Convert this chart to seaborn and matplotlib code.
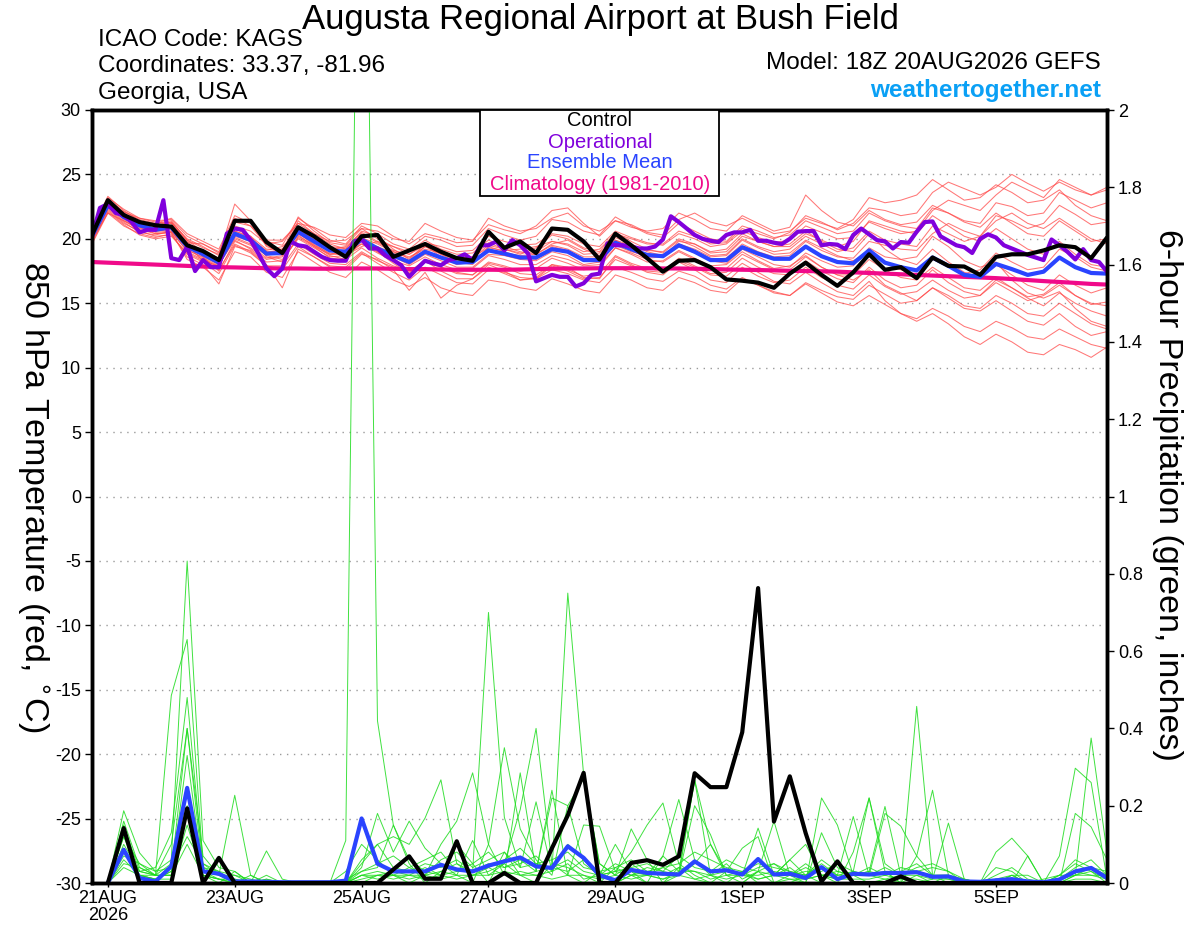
import numpy as np
import pandas as pd
import matplotlib
matplotlib.use("Agg")
import matplotlib.pyplot as plt
import seaborn as sns
from matplotlib.patches import Rectangle

# ---------------- data ----------------
HOURS_T = list(range(0, 385, 6))      # 850 hPa temperature, 6-hourly from 18Z 20AUG
HOURS_OP = list(range(0, 385, 3))     # operational run, 3-hourly
HOURS_P = list(range(6, 385, 6))      # 6-hour precipitation

control_t = [20.3, 23.0, 21.85, 21.3, 21.05, 20.95, 19.5, 19.05, 18.35, 21.4, 21.4, 19.75, 18.9,
             20.9, 20.2, 19.35, 18.6, 20.2, 20.3, 18.6, 19.1, 19.6, 19.0, 18.5, 18.3, 20.55,
             19.3, 19.8, 18.9, 20.8, 20.7, 19.8, 18.4, 20.4, 19.5, 18.5, 17.45, 18.3, 18.35,
             17.8, 16.85, 16.75, 16.6, 16.2, 17.3, 18.15, 17.2, 16.35, 17.4, 18.8, 17.6, 17.8,
             16.95, 18.55, 17.9, 17.85, 17.2, 18.6, 18.8, 18.8, 19.1, 19.5, 19.35, 18.5, 20.1]

mean_t = [20.2, 22.6, 21.7, 21.05, 20.7, 20.9, 19.4, 18.8, 18.15, 20.4, 19.9, 18.85, 18.9,
          20.55, 19.8, 19.1, 19.0, 19.95, 19.25, 18.7, 18.2, 19.0, 18.55, 18.15, 18.2, 19.1,
          18.85, 18.55, 18.55, 19.2, 19.0, 18.35, 18.35, 19.7, 19.2, 18.75, 18.65, 19.5, 19.0,
          18.35, 18.35, 19.35, 18.85, 18.45, 18.45, 19.4, 18.65, 18.2, 18.1, 19.1, 18.15, 17.8,
          17.55, 18.55, 17.9, 17.2, 17.05, 18.05, 17.65, 17.2, 17.45, 18.55, 17.8, 17.35, 17.3]

oper_t = [20.2, 22.4, 22.7, 22.0, 21.85, 21.3, 20.5, 20.7, 20.7, 23.0, 18.5, 18.35, 19.4, 17.5, 18.35, 17.8,
          17.8, 20.4, 20.8, 20.7, 19.9, 18.85, 17.7, 17.1, 17.7, 19.8, 19.5, 19.4, 19.0, 18.6, 18.35, 18.3,
          18.3, 19.8, 19.95, 19.25, 19.25, 18.7, 18.35, 17.95, 17.05, 17.7, 18.3, 18.1, 17.95, 18.35, 18.5, 18.8,
          18.35, 19.5, 19.5, 19.8, 19.1, 19.9, 19.5, 18.85, 16.7, 16.95, 17.2, 17.05, 17.05, 16.3, 16.55, 17.2,
          17.3, 19.65, 19.5, 19.5, 19.4, 19.25, 19.25, 19.4, 19.95, 21.75, 21.3, 20.8, 20.3, 20.0, 19.85, 19.75,
          20.3, 20.5, 20.5, 20.7, 19.85, 19.85, 19.7, 19.6, 20.0, 20.55, 20.6, 20.6, 19.5, 19.6, 19.55, 19.2,
          20.3, 20.8, 20.35, 19.9, 19.8, 19.25, 19.75, 19.7, 20.55, 21.3, 21.35, 20.2, 19.85, 19.5, 19.35, 18.9,
          20.0, 20.35, 20.1, 19.5, 19.25, 19.0, 18.75, 18.55, 18.35, 19.95, 19.5, 19.0, 18.4, 19.2, 18.35, 18.2,
          17.45]

clim_t = [18.2, 18.15, 18.1, 18.05, 18.0, 17.95, 17.9, 17.85, 17.8, 17.78, 17.75, 17.72, 17.7,
          17.7, 17.68, 17.68, 17.7, 17.7, 17.7, 17.68, 17.65, 17.65, 17.62, 17.6, 17.6, 17.6,
          17.6, 17.62, 17.65, 17.68, 17.7, 17.7, 17.72, 17.72, 17.72, 17.72, 17.7, 17.7, 17.68,
          17.65, 17.62, 17.6, 17.58, 17.55, 17.52, 17.5, 17.48, 17.45, 17.4, 17.35, 17.3, 17.25,
          17.2, 17.15, 17.1, 17.05, 17.0, 16.95, 16.88, 16.8, 16.72, 16.65, 16.58, 16.5, 16.45]

member_t = {
    "m01": [20.6, 23.2, 22.3, 21.6, 21.4, 21.5, 20.2, 19.6, 18.9, 21.3, 21.0, 19.8, 19.5,
            21.6, 20.8, 19.9, 19.6, 21.0, 20.4, 19.6, 19.2, 20.2, 19.9, 19.4, 19.5, 20.8,
            20.3, 19.9, 20.2, 21.5, 21.3, 20.6, 20.3, 21.7, 21.0, 20.4, 20.1, 21.2, 20.6,
            20.0, 19.8, 21.0, 20.6, 20.1, 20.3, 21.4, 20.9, 20.4, 20.6, 22.0, 21.4, 21.0,
            20.8, 22.4, 22.0, 21.4, 21.2, 22.8, 22.5, 21.8, 22.0, 23.6, 23.0, 22.4, 22.8],
    "m02": [19.8, 22.2, 21.2, 20.6, 20.2, 20.3, 18.8, 18.2, 17.3, 19.5, 18.9, 17.9, 17.6,
            19.4, 18.6, 17.9, 17.8, 18.9, 18.1, 17.4, 16.8, 17.8, 17.2, 16.6, 16.5, 17.6,
            17.4, 17.0, 16.9, 17.6, 17.3, 16.8, 16.6, 17.8, 17.4, 16.9, 16.7, 17.5, 17.1,
            16.4, 16.1, 17.0, 16.4, 15.9, 15.6, 16.5, 15.8, 15.1, 14.8, 15.6, 14.9, 14.2,
            13.8, 14.6, 14.0, 13.2, 12.8, 13.6, 13.1, 12.4, 12.2, 13.0, 12.4, 11.8, 11.5],
    "m03": [20.0, 22.8, 22.0, 21.3, 20.5, 20.6, 19.0, 18.4, 17.8, 20.8, 20.2, 18.6, 18.2,
            20.2, 19.5, 18.7, 18.4, 19.8, 19.4, 18.9, 18.3, 19.4, 18.8, 18.4, 18.6, 19.7,
            19.2, 18.8, 19.3, 20.3, 20.0, 19.3, 19.0, 20.5, 19.8, 19.2, 18.9, 19.9, 19.4,
            18.7, 18.8, 20.0, 19.4, 19.0, 19.2, 20.2, 19.6, 19.0, 19.3, 20.6, 19.9, 19.6,
            19.4, 21.0, 20.4, 19.8, 20.2, 21.8, 21.4, 20.8, 21.2, 22.6, 21.9, 21.1, 21.3],
    "m04": [20.4, 22.4, 21.4, 20.8, 20.9, 21.2, 19.8, 18.6, 17.5, 19.8, 19.3, 18.4, 18.6,
            20.4, 19.6, 18.8, 18.9, 20.2, 19.0, 18.1, 17.3, 18.4, 17.8, 17.4, 17.2, 18.2,
            17.9, 17.5, 17.7, 18.5, 18.1, 17.6, 17.8, 19.3, 18.8, 18.2, 18.3, 19.1, 18.5,
            17.9, 18.0, 19.0, 18.3, 17.7, 17.9, 18.7, 17.8, 17.2, 16.8, 17.6, 16.4, 15.8,
            15.2, 16.2, 15.4, 14.6, 14.4, 15.2, 14.4, 13.6, 13.3, 14.2, 13.2, 12.5, 12.8],
    "m05": [20.1, 22.9, 21.9, 21.2, 20.8, 21.0, 19.6, 19.1, 18.5, 20.6, 20.2, 19.2, 19.2,
            20.9, 20.2, 19.4, 19.3, 20.4, 19.7, 19.1, 18.8, 19.7, 19.4, 19.0, 19.1, 20.2,
            19.8, 19.5, 19.6, 20.4, 20.2, 19.6, 19.4, 20.6, 20.1, 19.7, 19.5, 20.4, 20.0,
            19.4, 19.6, 20.6, 20.1, 19.7, 19.9, 21.0, 20.5, 20.0, 20.1, 21.3, 20.8, 20.4,
            20.6, 22.2, 23.0, 22.6, 22.2, 23.4, 24.4, 23.8, 23.2, 24.6, 24.0, 23.4, 23.8],
    "m06": [19.6, 22.0, 21.0, 20.4, 20.1, 20.4, 18.6, 18.0, 16.5, 19.4, 19.1, 18.0, 16.2,
            19.2, 18.6, 17.8, 17.6, 18.8, 18.4, 17.6, 16.0, 17.4, 15.4, 16.4, 16.9, 18.0,
            17.5, 16.8, 17.0, 18.0, 17.8, 17.0, 16.9, 18.6, 18.0, 17.4, 17.2, 18.2, 17.6,
            16.8, 16.6, 17.8, 17.1, 16.6, 16.8, 17.8, 17.0, 16.4, 16.1, 17.2, 16.3, 15.7,
            15.9, 16.8, 16.0, 15.4, 15.6, 16.6, 15.9, 15.2, 15.6, 16.4, 15.6, 14.9, 15.1],
    "m07": [20.3, 22.7, 21.8, 21.4, 21.0, 21.3, 20.0, 19.4, 18.7, 22.7, 21.4, 19.4, 19.0,
            21.7, 20.6, 19.7, 19.5, 20.8, 20.6, 20.0, 19.8, 21.2, 20.6, 20.1, 19.9, 21.1,
            20.7, 20.4, 21.0, 22.2, 22.4, 21.2, 20.2, 21.4, 20.9, 20.6, 20.8, 22.0, 21.5,
            20.8, 20.6, 21.8, 21.2, 20.6, 20.9, 23.4, 22.2, 21.3, 21.0, 22.2, 21.5, 21.1,
            21.3, 22.6, 22.0, 21.3, 20.9, 22.0, 21.2, 20.4, 20.2, 21.4, 20.6, 19.8, 20.0],
    "m08": [19.9, 22.5, 21.6, 20.9, 20.4, 20.5, 19.1, 18.6, 18.0, 20.0, 19.5, 18.5, 18.7,
            20.3, 19.4, 18.8, 18.9, 19.6, 18.9, 18.3, 17.9, 18.6, 18.0, 17.6, 17.7, 18.7,
            18.4, 18.0, 18.0, 18.7, 18.4, 17.9, 18.0, 19.3, 18.9, 18.4, 18.2, 19.0, 18.4,
            17.8, 17.7, 18.8, 18.2, 17.6, 17.6, 18.6, 17.8, 17.2, 17.2, 18.4, 17.6, 17.0,
            16.8, 17.8, 17.0, 16.2, 16.0, 17.0, 16.2, 15.5, 15.7, 16.6, 15.6, 15.0, 14.8],
    "m09": [20.5, 23.1, 22.1, 21.5, 21.2, 21.4, 19.9, 19.3, 18.8, 21.0, 20.6, 19.6, 19.8,
            21.2, 20.4, 19.8, 19.9, 20.8, 20.0, 19.4, 19.0, 19.9, 19.2, 18.8, 18.9, 19.9,
            19.4, 19.0, 18.8, 19.5, 19.2, 18.6, 18.6, 19.9, 19.3, 18.8, 18.6, 19.6, 19.0,
            18.3, 18.1, 19.2, 18.6, 18.0, 17.8, 18.9, 18.3, 17.8, 17.9, 19.3, 18.6, 18.4,
            18.6, 20.2, 19.4, 18.3, 17.8, 18.2, 16.8, 15.8, 15.4, 15.9, 14.6, 13.6, 13.2],
    "m10": [20.2, 22.6, 21.5, 20.7, 20.6, 20.8, 19.2, 18.9, 18.4, 20.1, 19.6, 18.7, 18.4,
            20.0, 19.3, 18.6, 18.7, 19.6, 19.0, 18.6, 18.0, 18.8, 18.3, 17.8, 17.8, 18.8,
            18.7, 18.4, 18.3, 19.0, 18.7, 18.0, 18.2, 19.5, 19.0, 18.7, 18.6, 19.4, 18.9,
            18.4, 18.5, 19.6, 19.0, 18.6, 18.7, 19.8, 19.1, 18.6, 18.5, 19.8, 19.5, 19.2,
            19.1, 20.4, 21.2, 20.6, 20.2, 21.4, 22.0, 21.2, 20.8, 21.6, 20.8, 20.0, 19.6],
    "m11": [20.0, 22.3, 21.3, 20.5, 20.3, 20.6, 19.3, 18.8, 18.0, 19.9, 19.2, 18.2, 18.3,
            20.1, 19.4, 18.5, 18.4, 19.3, 18.5, 17.9, 17.5, 18.3, 17.5, 16.9, 16.9, 17.8,
            17.3, 16.8, 16.9, 17.9, 17.5, 16.9, 17.0, 18.4, 17.9, 17.5, 17.4, 18.3, 17.8,
            17.2, 17.1, 18.1, 17.4, 16.7, 16.5, 17.4, 16.6, 15.9, 15.6, 16.7, 15.2, 14.2,
            13.6, 14.2, 13.4, 12.4, 11.8, 12.6, 12.0, 11.2, 11.0, 11.8, 11.4, 10.8, 11.6],
    "m12": [20.7, 23.3, 22.2, 21.4, 21.1, 21.3, 19.9, 19.0, 18.3, 20.6, 20.1, 19.0, 19.1,
            20.7, 20.0, 19.3, 19.2, 20.1, 19.6, 19.0, 18.5, 19.4, 19.0, 18.5, 18.5, 19.5,
            19.2, 18.9, 19.0, 19.8, 19.6, 19.0, 19.2, 20.4, 20.0, 19.6, 19.6, 20.6, 20.2,
            19.6, 19.7, 20.8, 20.4, 20.0, 20.5, 21.8, 21.3, 20.7, 21.2, 22.4, 22.2, 21.8,
            22.0, 23.6, 24.4, 23.9, 23.4, 24.0, 25.0, 24.3, 23.7, 24.4, 23.8, 23.4, 24.0],
    "m13": [20.1, 22.4, 21.9, 21.1, 20.6, 20.7, 19.5, 18.3, 17.9, 20.2, 19.8, 18.9, 19.2,
            20.8, 19.9, 19.2, 19.4, 20.5, 19.8, 19.0, 18.6, 19.2, 18.9, 18.5, 18.6, 19.3,
            19.1, 19.2, 19.4, 19.8, 19.5, 18.8, 18.9, 20.1, 19.6, 19.0, 18.7, 19.6, 19.2,
            18.6, 18.7, 19.9, 19.3, 18.8, 18.9, 19.9, 19.3, 18.7, 18.3, 19.0, 18.1, 17.6,
            17.2, 18.4, 18.0, 17.3, 17.6, 18.9, 18.2, 17.6, 17.8, 19.2, 18.6, 17.8, 17.5],
    "m14": [19.7, 22.1, 21.1, 20.3, 20.0, 20.2, 18.9, 18.3, 17.6, 19.6, 19.0, 17.9, 17.9,
            19.6, 18.8, 18.1, 18.0, 19.0, 18.3, 17.8, 17.4, 18.2, 17.8, 17.3, 17.2, 18.1,
            17.8, 17.3, 17.2, 18.0, 17.6, 17.1, 17.3, 18.7, 18.1, 17.7, 17.5, 18.5, 17.9,
            17.3, 17.4, 18.5, 17.8, 17.3, 17.2, 18.3, 17.5, 16.9, 16.6, 17.8, 16.8, 16.2,
            16.4, 17.6, 16.6, 15.9, 15.6, 16.8, 16.2, 15.4, 14.8, 15.8, 15.0, 14.4, 14.0],
    "m15": [20.4, 22.9, 22.0, 21.0, 21.2, 21.6, 20.4, 19.8, 19.2, 21.8, 21.2, 19.9, 19.9,
            21.2, 20.9, 20.3, 20.1, 21.2, 21.0, 20.2, 19.6, 20.4, 20.1, 19.7, 19.8, 21.6,
            21.0, 20.6, 20.8, 21.6, 22.0, 21.0, 20.6, 21.4, 21.1, 20.5, 20.3, 21.5, 22.0,
            21.3, 21.0, 21.6, 21.0, 20.4, 20.6, 21.6, 21.2, 20.8, 21.5, 23.2, 22.8, 23.0,
            23.4, 24.6, 23.8, 23.0, 23.2, 24.2, 23.6, 22.8, 23.0, 23.8, 22.6, 21.8, 21.4],
    "m16": [19.9, 22.0, 21.4, 20.7, 20.4, 20.5, 18.4, 17.8, 16.8, 19.0, 18.6, 17.4, 17.0,
            19.0, 18.2, 17.4, 17.0, 18.2, 17.6, 16.8, 16.3, 17.0, 16.2, 15.8, 15.6, 16.8,
            16.6, 16.2, 16.0, 16.9, 16.5, 16.0, 15.8, 17.2, 16.8, 16.2, 16.0, 17.0, 16.6,
            16.0, 15.8, 16.9, 16.4, 15.8, 15.6, 16.6, 16.0, 15.5, 15.3, 16.4, 15.7, 15.0,
            15.2, 16.2, 15.6, 14.8, 14.6, 15.6, 15.0, 14.2, 14.0, 15.0, 14.2, 13.4, 13.0],
    "m17": [20.0, 22.6, 22.1, 21.6, 21.3, 21.2, 19.7, 19.6, 19.0, 21.6, 21.0, 19.5, 18.9,
            21.4, 20.4, 19.6, 19.2, 20.6, 20.2, 19.2, 18.4, 19.6, 18.8, 18.2, 18.0, 19.4,
            19.0, 18.6, 18.4, 19.4, 19.1, 18.4, 18.2, 19.6, 19.1, 18.5, 18.6, 19.8, 19.6,
            19.0, 19.2, 20.4, 19.8, 19.4, 19.6, 20.6, 19.8, 19.2, 19.0, 20.4, 19.2, 18.4,
            18.0, 19.2, 18.2, 17.4, 17.0, 18.0, 17.2, 16.4, 16.0, 17.2, 16.4, 15.8, 16.2],
    "m18": [20.3, 22.8, 21.6, 20.9, 20.7, 21.0, 19.2, 18.5, 17.9, 20.3, 20.0, 19.1, 19.4,
            20.5, 19.5, 18.9, 18.7, 19.4, 19.8, 19.4, 18.8, 19.5, 18.6, 18.0, 18.2, 19.2,
            18.9, 18.7, 18.8, 19.6, 19.9, 19.2, 18.7, 19.9, 19.5, 19.1, 19.0, 20.0, 19.6,
            18.9, 19.0, 20.2, 19.8, 19.4, 19.4, 20.4, 19.9, 19.4, 19.8, 21.4, 21.0, 20.6,
            20.4, 21.8, 21.0, 20.2, 19.8, 20.8, 20.0, 19.2, 18.8, 19.8, 18.8, 18.0, 17.8],
}

control_p = [0, .142, 0, 0, 0, .193, 0, .065, 0, 0, 0, 0, 0, 0, 0, 0,
             0, 0, .035, .069, .011, .011, .108, 0, 0, .026, 0, 0, .09, .175, .285, 0,
             0, .052, .059, .047, .069, .284, .248, .248, .39, .763, .159, .276, .129, .004, .056, 0,
             0, 0, .017, 0, 0, 0, 0, 0, 0, 0, 0, 0, 0, 0, 0, 0]

mean_p = [0, .086, .013, .004, .043, .246, .03, .024, .004, .004, .003, .002, .002, .002, .002, .006,
          .167, .05, .03, .03, .03, .047, .035, .03, .045, .056, .066, .043, .039, .095, .065, .02,
          .007, .034, .026, .024, .022, .056, .03, .033, .022, .062, .022, .024, .013, .041, .01, .024,
          .022, .026, .026, .028, .016, .017, .004, .003, .007, .01, .004, .002, .009, .03, .039, .013]

member_p = {
    "g01": [0, .12, .05, .02, .10, .40, .07, .02, 0, 0, 0, 0, 0, 0, 0, .11,
            3.5, .42, .15, .06, .03, .02, .10, .05, 0, .08, .02, 0, .05, .02, 0, .03,
            0, .02, 0, 0, .04, .01, 0, 0, .03, 0, 0, 0, .02, 0, 0, 0,
            0, 0, 0, 0, 0, 0, 0, 0, 0, 0, 0, 0, 0, 0, 0, 0],
    "g02": [0, .187, .078, .03, .06, .833, .11, .04, .03, 0, .01, 0, 0, 0, 0, 0,
            .04, .18, .08, .16, .09, .05, .02, 0, .10, .35, .14, .06, .02, .20, .05, .02,
            .10, .03, 0, .07, .216, .06, .02, 0, 0, .03, .16, .02, 0, .13, .04, .02,
            0, .01, 0, .07, .24, .02, 0, 0, 0, 0, .07, 0, 0, .18, .145, .06],
    "g03": [0, .16, .04, .02, .485, .63, .05, .02, .227, .02, 0, 0, 0, 0, 0, 0,
            .05, .10, .12, .10, .168, .267, .05, .03, .70, .17, .04, .21, .03, .75, .28, .05,
            .02, .14, .06, 0, .02, .267, .10, .03, .02, .142, .02, .06, .10, .02, 0, .08,
            .22, .03, 0, .457, .02, 0, 0, 0, .08, .116, .07, 0, 0, .02, .375, .08],
    "g04": [0, .15, .03, .04, .13, .48, .04, .03, 0, 0, .083, .01, 0, 0, 0, .03,
            .10, .06, .02, 0, .02, .10, .16, .285, .10, .02, .285, .03, .24, .02, .15, .147,
            .03, .08, .15, .207, .05, .02, 0, .03, .09, .12, 0, .01, 0, .22, .15, .02,
            .03, .198, .02, 0, .01, .155, .01, 0, 0, .02, 0, 0, .07, .297, .26, .01],
    "g05": [0, .12, .02, .01, .03, .40, .03, .01, 0, 0, 0, 0, 0, 0, 0, 0,
            .03, .04, .15, .05, 0, .03, .02, .11, .02, .05, .19, .40, .05, .04, .02, 0,
            .04, .02, .02, .04, .02, .20, .125, .02, 0, .03, 0, .02, .05, .02, .02, .172,
            .02, .18, .147, .07, .02, .02, 0, 0, 0, .02, 0, 0, .02, .05, .03, 0],
    "g06": [0, .10, .03, .02, .02, .33, .02, 0, .03, 0, 0, 0, 0, 0, 0, 0,
            0, .02, .03, .02, .02, .03, .05, .02, .03, .05, .02, .03, .22, .20, .27, .05,
            .02, .05, .02, .07, .03, .267, .02, .05, .01, .03, .02, .06, .02, .05, .02, .02,
            .02, .03, 0, .02, 0, .02, .01, 0, 0, .01, 0, 0, .01, .03, .02, .02],
    "g07": [0, .08, .02, .02, .02, .25, .02, .01, 0, .02, 0, 0, 0, 0, 0, 0,
            .02, .01, .02, .04, .02, .06, .08, .04, .06, .08, .04, .05, .04, .06, .03, .02,
            0, .02, .04, .03, .02, .05, .10, .02, .02, .04, .05, .03, .02, .04, .02, .03,
            .22, .05, .02, .04, .05, .03, 0, 0, 0, 0, 0, .01, .02, .02, .04, .02],
    "g08": [0, .06, .02, .01, .03, .20, .03, .02, .02, 0, .02, 0, 0, 0, 0, 0,
            .02, .02, .01, .02, .04, .02, .03, .03, .05, .04, .06, .03, .04, .03, .06, .02,
            .03, .02, .03, .02, .04, .03, .02, .03, .02, .02, .03, .02, .04, .02, .03, .02,
            .03, .02, .04, .03, .02, .02, 0, 0, 0, .01, 0, 0, .01, .02, .03, .01],
    "g09": [0, .04, .02, .01, .01, .15, .02, .01, .01, 0, 0, 0, 0, 0, 0, 0,
            .01, .02, .02, .01, .02, .01, .02, .02, .02, .03, .02, .02, .01, .02, .02, .01,
            .02, .01, .02, .01, .02, .01, .02, .01, .02, .01, .02, .01, .01, .02, .01, .01,
            .01, .02, .01, .01, 0, 0, 0, 0, .01, 0, 0, 0, 0, .01, .01, 0],
    "g10": [0, .05, .04, .02, .02, .10, .02, .01, 0, 0, 0, 0, 0, 0, 0, 0,
            .02, .03, .02, .02, .01, .02, .01, .02, .04, .02, .03, .02, .03, .05, .01, .02,
            .05, .03, .02, .01, .03, .03, .01, .02, .03, .01, .02, .04, .01, .02, .01, .03,
            .02, .01, .02, .02, .01, .01, 0, 0, .04, .03, 0, 0, 0, .02, .02, .01],
    "g11": [0, .09, .03, .02, .05, .18, .04, .02, .01, 0, .01, 0, 0, 0, 0, 0,
            .06, .10, .04, .03, .05, .04, .06, .03, .04, .06, .09, .05, .06, .08, .04, .03,
            .04, .06, .03, .04, .05, .08, .06, .04, .03, .05, .04, .03, .02, .06, .03, .02,
            .04, .02, .03, .05, .02, .01, 0, 0, .02, .04, .01, 0, .01, .04, .06, .02],
    "g12": [0, .07, .05, .03, .04, .12, .05, .03, .02, .01, 0, 0, 0, 0, 0, .01,
            .03, .05, .07, .04, .06, .08, .03, .05, .08, .04, .05, .07, .03, .10, .06, .02,
            .03, .04, .05, .03, .07, .04, .03, .06, .04, .03, .05, .02, .03, .03, .05, .03,
            .02, .04, .02, .03, .04, .03, .01, 0, .01, .02, .02, 0, .02, .06, .04, .03],
}

xtick_hours = [6, 54, 102, 150, 198, 246, 294, 342]
xtick_labels = ["21AUG\n2026", "23AUG", "25AUG", "27AUG", "29AUG", "1SEP", "3SEP", "5SEP"]
temp_ticks = list(range(-30, 31, 5))
precip_ticks = [0, 0.2, 0.4, 0.6, 0.8, 1, 1.2, 1.4, 1.6, 1.8, 2]
precip_labels = ["0", "0.2", "0.4", "0.6", "0.8", "1", "1.2", "1.4", "1.6", "1.8", "2"]

# ---------------- style ----------------
sns.set_theme(style="white")
plt.rcParams["font.family"] = ["Liberation Sans", "DejaVu Sans"]
plt.rcParams["text.color"] = "black"
plt.rcParams["axes.labelcolor"] = "black"
plt.rcParams["xtick.color"] = "black"
plt.rcParams["ytick.color"] = "black"
TICKFONT = ["Liberation Sans Narrow", "Liberation Sans", "DejaVu Sans"]

C_RED = "#ff4a4a"
C_GREEN = "#1edc1e"
C_OP = "#8000dc"
C_MEAN = "#2a44ff"
C_CLIM = "#f00a8a"
C_WEB = "#0aa0f5"

fig = plt.figure(figsize=(12, 9.27), dpi=100)
ax = fig.add_axes([92 / 1200, 1 - 883 / 927, (1107 - 92) / 1200, (883 - 110) / 927])
ax2 = ax.twinx()

# long-form frames for ensemble members
rows = []
for name, vals in member_t.items():
    for h, v in zip(HOURS_T, vals):
        rows.append((name, h, v))
df_t = pd.DataFrame(rows, columns=["member", "hour", "value"])
rows = []
for name, vals in member_p.items():
    for h, v in zip(HOURS_P, vals):
        rows.append((name, h, v))
df_p = pd.DataFrame(rows, columns=["member", "hour", "value"])

# temperature panel
sns.lineplot(data=df_t, x="hour", y="value", units="member", estimator=None,
             color=C_RED, lw=0.75, alpha=0.75, ax=ax, legend=False)
sns.lineplot(x=HOURS_T, y=clim_t, color=C_CLIM, lw=3, ax=ax)
sns.lineplot(x=HOURS_T, y=mean_t, color=C_MEAN, lw=3, ax=ax)
sns.lineplot(x=HOURS_OP, y=oper_t, color=C_OP, lw=3, ax=ax)
sns.lineplot(x=HOURS_T, y=control_t, color="black", lw=3, ax=ax)

# precipitation panel
sns.lineplot(data=df_p, x="hour", y="value", units="member", estimator=None,
             color=C_GREEN, lw=0.7, alpha=0.85, ax=ax2, legend=False)
sns.lineplot(x=HOURS_P, y=mean_p, color=C_MEAN, lw=3, ax=ax2)
sns.lineplot(x=HOURS_P, y=control_p, color="black", lw=3, ax=ax2)

ax.set_xlim(0, 384)
ax.set_ylim(-30, 30)
ax2.set_ylim(0, 2)
ax.set_xlabel("")
ax.set_ylabel("")
ax2.set_ylabel("")

ax.set_yticks(temp_ticks)
ax.set_yticklabels([str(t) for t in temp_ticks], family=TICKFONT, fontsize=13, color="black")
ax2.set_yticks(precip_ticks)
ax2.set_yticklabels(precip_labels, family=TICKFONT, fontsize=13, color="black")
ax.set_xticks(xtick_hours)
ax.set_xticklabels(xtick_labels, family=TICKFONT, fontsize=13, linespacing=1.0, color="black")

ax.tick_params(axis="y", direction="out", length=5, width=1, pad=3, left=True, colors="black")
ax2.tick_params(axis="y", direction="out", length=5, width=1, pad=3, right=True, colors="black")
ax.tick_params(axis="x", direction="out", length=3, width=1, pad=2, bottom=True, colors="black")

ax.yaxis.grid(True, linestyle=(0, (1, 4)), color="#9a9a9a", lw=1)
ax.xaxis.grid(False)
ax2.grid(False)
for a in (ax, ax2):
    for s in a.spines.values():
        s.set_color("black")
        s.set_linewidth(2.5)

# legend box
ax2.add_patch(Rectangle(((480 - 92) / 1015, (883 - 196) / 773), (719 - 480) / 1015, 86 / 773,
                        transform=ax2.transAxes, facecolor="white", edgecolor="black",
                        lw=1.3, zorder=20, clip_on=False))
leg_items = [("Control", "black", 121), ("Operational", C_OP, 142),
             ("Ensemble Mean", C_MEAN, 163), ("Climatology (1981-2010)", C_CLIM, 185)]
for txt, col, ypx in leg_items:
    fig.text(600 / 1200, 1 - ypx / 927, txt, color=col, fontsize=14.5, ha="center", va="center")

# titles and annotations
fig.text(600 / 1200, 1 - 19 / 927, "Augusta Regional Airport at Bush Field",
         fontsize=25, ha="center", va="center", color="black")
fig.text(98 / 1200, 1 - 40 / 927, "ICAO Code: KAGS", fontsize=17.5, ha="left", va="center", color="black")
fig.text(98 / 1200, 1 - 66 / 927, "Coordinates: 33.37, -81.96", fontsize=17.5, ha="left", va="center",
         color="black")
fig.text(98 / 1200, 1 - 93 / 927, "Georgia, USA", fontsize=17.5, ha="left", va="center", color="black")
fig.text(1101 / 1200, 1 - 63 / 927, "Model: 18Z 20AUG2026 GEFS", fontsize=17.5, ha="right", va="center",
         color="black")
fig.text(1101 / 1200, 1 - 90 / 927, "weathertogether.net", fontsize=17.5, ha="right", va="center",
         color=C_WEB, fontweight="bold")

fig.text(32 / 1200, 1 - 497 / 927, "850 hPa Temperature (red, $^{\\circ}$C)", fontsize=24.5,
         rotation=270, ha="center", va="center", color="black")
fig.text(1168 / 1200, 1 - 495 / 927, "6-hour Precipitation (green, inches)", fontsize=24.5,
         rotation=270, ha="center", va="center", color="black")

fig.savefig("out.png", dpi=100, facecolor="white")
